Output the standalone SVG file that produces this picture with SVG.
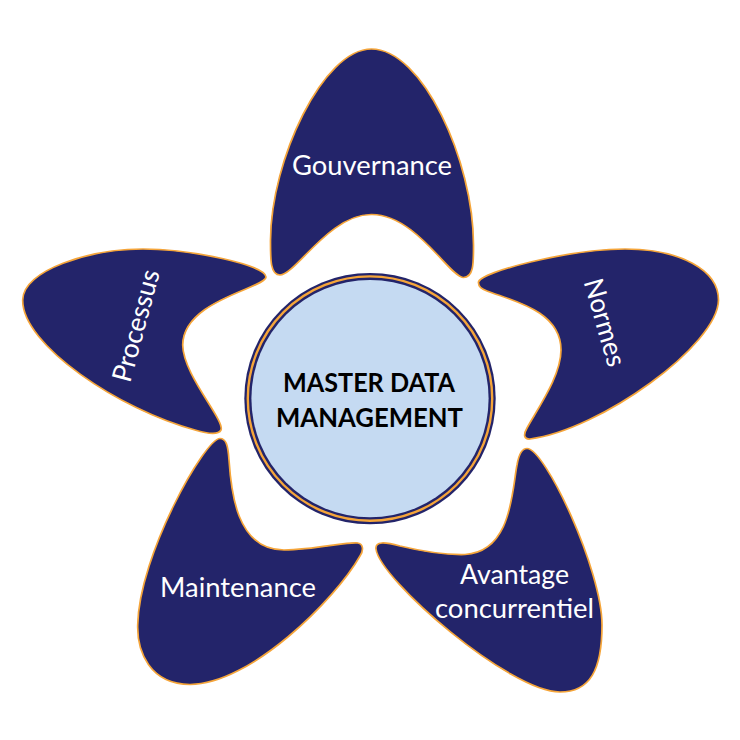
<svg xmlns="http://www.w3.org/2000/svg" width="740" height="740" viewBox="0 0 740 740">
<style>
.petal{fill:#23246a;stroke:#f5a53a;stroke-width:1.7}
.lbl{font-family:"Lato","Open Sans",sans-serif;font-size:27px;fill:#fff;text-anchor:middle}
.ttl{font-family:"Lato","Open Sans",sans-serif;font-size:26px;font-weight:700;fill:#000;text-anchor:middle}
</style>
<rect width="740" height="740" fill="#fff"/>
<g id="gouvernance">
<path class="petal" d="M371.5 49 C422 49 473.5 160 473.5 245 C473.5 262 474 278 463 277.5 C450 277 415 214 371.5 214.5 C330 214 295 275 280 275 C270 275 270.5 258 270.5 240 C271 160 323 49 371.5 49Z"/>
<text class="lbl" x="372" y="175" textLength="160" lengthAdjust="spacingAndGlyphs">Gouvernance</text>
</g>
<g id="processus">
<path class="petal" d="M143 249 C190 249 266 265 266 277 C266 288 183 300 182.7 345 C183 375 225 420 221 430 C218 436 205 433 195 430 C120 410 22 345 22.7 300 C23 270 90 249 143 249Z"/>
<text class="lbl" transform="translate(145 328) rotate(-75)" textLength="115" lengthAdjust="spacingAndGlyphs">Processus</text>
</g>
<g id="maintenance">
<path class="petal" d="M220 438.5 C226 438.5 228 445 229 460 C231 490 236 550 284 550 C315 550 350 541 358 543 C363 544 364 550 360 556 C335 600 250 684.5 190 684.5 C150 684 137 652 137.7 625 C139 555 205 438.5 220 438.5Z"/>
<text class="lbl" x="238" y="597" textLength="156" lengthAdjust="spacingAndGlyphs">Maintenance</text>
</g>
<g id="avantage">
<path class="petal" d="M527 448.5 C545 448.5 602 570 602 625 C602 670 590 692 560 692 C510 692 380 580 376 549 C375 541 385 542 400 546 C425 552 445 555 465 554.5 C512 552 512 490 517 465 C519 453 522 448.5 527 448.5Z"/>
<text class="lbl" x="514.5" y="584" textLength="109" lengthAdjust="spacingAndGlyphs">Avantage</text>
<text class="lbl" x="514.5" y="618" textLength="159" lengthAdjust="spacingAndGlyphs">concurrentiel</text>
</g>
<g id="normes">
<path class="petal" d="M478.5 282 C480 272 570 249 625 249 C680 249 718.5 270 718.5 300 C718 345 600 430 530 439 C524 439.5 523 435 527 428 C540 405 561 375 561 350 C561 310 510 300 487 291 C482 289 478 287 478.5 282Z"/>
<text class="lbl" transform="translate(596 325) rotate(74)" textLength="90" lengthAdjust="spacingAndGlyphs">Normes</text>
</g>
<g id="master-data-management">
<circle cx="370" cy="398.6" r="125.7" fill="#23246a"/>
<circle cx="370" cy="398.6" r="122.2" fill="none" stroke="#f5a53a" stroke-width="2.4"/>
<circle cx="370" cy="398.6" r="118.6" fill="#c5daf2"/>
<text class="ttl" x="369" y="392" textLength="172" lengthAdjust="spacingAndGlyphs">MASTER DATA</text>
<text class="ttl" x="369.5" y="427" textLength="187" lengthAdjust="spacingAndGlyphs">MANAGEMENT</text>
</g>
<g id="connectors"/>
</svg>
